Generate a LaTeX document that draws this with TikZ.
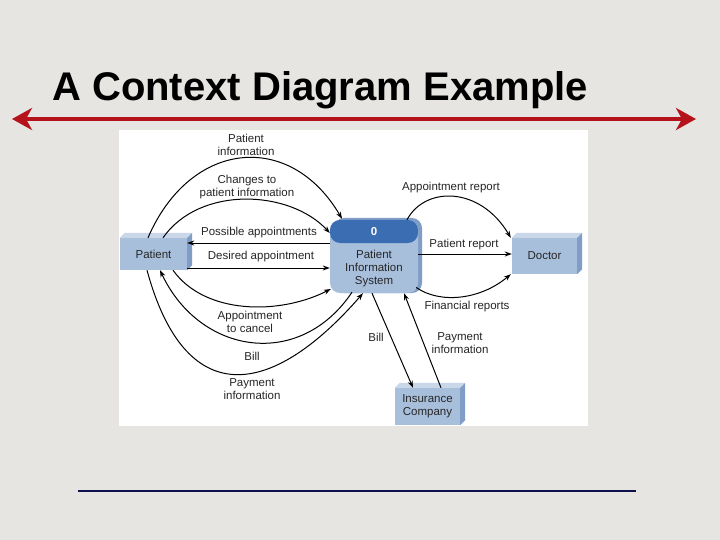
\documentclass[tikz,border=0pt]{standalone}
\usepackage{fontspec}
\setmainfont{Liberation Sans}
\usepackage{xcolor}
\usepackage{tikz}
\usetikzlibrary{arrows.meta,calc,positioning}
\definecolor{slidebg}{HTML}{E6E5E1}
\definecolor{boxface}{HTML}{A8BFDC}
\definecolor{boxside}{HTML}{7F9DC6}
\definecolor{boxtop}{HTML}{C9D7E9}
\definecolor{procband}{HTML}{3B6DB3}
\definecolor{txtgray}{HTML}{262626}
\definecolor{rulered}{HTML}{B5121B}
\definecolor{rulenavy}{HTML}{10104A}

\begin{document}
\begin{tikzpicture}[x=1pt,y=-1pt,font=\fontsize{11.5}{12.5}\selectfont,
  entity/.style={rectangle,fill=boxface,inner sep=0pt,text=txtgray,align=center,
    font=\fontsize{11.5}{13}\selectfont},
  proc/.style={rectangle,rounded corners=10pt,fill=boxface,minimum width=88pt,minimum height=73pt,
    path picture={\fill[procband] (path picture bounding box.north west) rectangle
      ([yshift=-23pt]path picture bounding box.north east);}},
  flow/.style={-{Stealth[length=7pt,width=5pt]},line width=1pt,black},
  lbl/.style={text=txtgray,align=center,inner sep=0pt}]
\useasboundingbox (0,0) rectangle (720,540);
\fill[slidebg] (0,0) rectangle (720,540);
\fill[white] (119,130) rectangle (588,426);

% title and rules
\node[anchor=base west,inner sep=0pt,font=\fontsize{40}{48}\selectfont\bfseries] (title) at (52,101) {A Context Diagram Example};
\coordinate (rl) at (12,119);
\coordinate (rr) at (696,119);
\draw[rulered,line width=4pt,{Stealth[length=20pt,width=22pt,inset=6pt]}-{Stealth[length=20pt,width=22pt,inset=6pt]}] (rl) -- (rr);
\coordinate (bl) at (78,491);
\coordinate (br) at (636,491);
\draw[rulenavy,line width=1.3pt] (bl) -- (br);

% process
\fill[boxside,rounded corners=10pt] (334,218) rectangle (422,293);
\node[proc] (pis) at (374,256.5) {};
\node[text=white,font=\fontsize{11.5}{12}\selectfont\bfseries] (pisid) at (374,232) {0};
\node[lbl,font=\fontsize{11.5}{13}\selectfont] (pisname) at (374,269) {Patient\\Information\\System};

% external entities
\node[entity,minimum width=67pt,minimum height=32pt] (pat) at (153.5,254) {Patient};
\node[entity,minimum width=65pt,minimum height=36pt] (doc) at (544.5,256) {Doctor};
\node[entity,minimum width=65pt,minimum height=37pt] (ins) at (427.5,406.5) {Insurance\\Company};
\foreach \n in {pat,doc,ins}{
  \fill[boxtop] (\n.north west) -- ++(5,-5) -- ([xshift=5pt,yshift=5pt]\n.north east) -- (\n.north east) -- cycle;
  \fill[boxside] (\n.north east) -- ++(5,-5) -- ([xshift=5pt,yshift=5pt]\n.south east) -- (\n.south east) -- cycle;
}

% flows patient
\draw[flow] ([xshift=-5.5pt]pat.north) .. controls (190,140) and (290,130) .. ([xshift=-32pt,yshift=1pt]pis.north);
\draw[flow] ([xshift=9.5pt]pat.north) .. controls (200,185) and (290,190) .. ([yshift=23.5pt]pis.west);
\draw[flow] ([yshift=13.5pt]pis.west) -- ([yshift=11pt]pat.east);
\draw[flow] ([yshift=-14pt]pat.east) -- ([yshift=-11.5pt]pis.west);
\draw[flow] ([xshift=19.5pt]pat.south) .. controls (205,315) and (280,315) .. ([xshift=1pt,yshift=-32.5pt]pis.west);
\draw[flow] ([xshift=-22pt,yshift=1pt]pis.south) .. controls (300,370) and (200,355) .. ([xshift=6.5pt]pat.south);
\draw[flow] ([xshift=-6.5pt]pat.south) .. controls (185,410) and (270,400) .. ([xshift=-11pt]pis.south);

% flows doctor and insurance
\draw[flow] ([xshift=33pt]pis.north) .. controls (425,186) and (480,186) .. ([xshift=-1pt]doc.north west);
\draw[flow] ([yshift=2.5pt]pis.east) -- ([yshift=2pt]doc.west);
\draw[flow] ([xshift=-2pt,yshift=-31pt]pis.east) .. controls (440,304) and (480,300) .. ([xshift=-1pt]doc.south west);
\draw[flow] ([xshift=-2pt]pis.south) -- ([xshift=-14.5pt]ins.north);
\draw[flow] ([xshift=13.5pt]ins.north) -- ([xshift=30pt]pis.south);

% labels
\node[lbl] (lpinfo) at (246,145) {Patient\\information};
\node[lbl] (lchg) at (247,187) {Changes to\\patient information};
\node[lbl] (lposs) at (259,233) {Possible appointments};
\node[lbl] (ldes) at (261,257) {Desired appointment};
\node[lbl] (lcan) at (250,322) {Appointment\\to cancel};
\node[lbl] (lbill) at (252,356) {Bill};
\node[lbl] (lpay) at (252,389) {Payment\\information};
\node[lbl] (lapr) at (451,188) {Appointment report};
\node[lbl] (lprep) at (464,245) {Patient report};
\node[lbl] (lfin) at (467,307) {Financial reports};
\node[lbl] (lbillb) at (376,337) {Bill};
\node[lbl] (lpayb) at (460,343) {Payment\\information};
\end{tikzpicture}
\end{document}
